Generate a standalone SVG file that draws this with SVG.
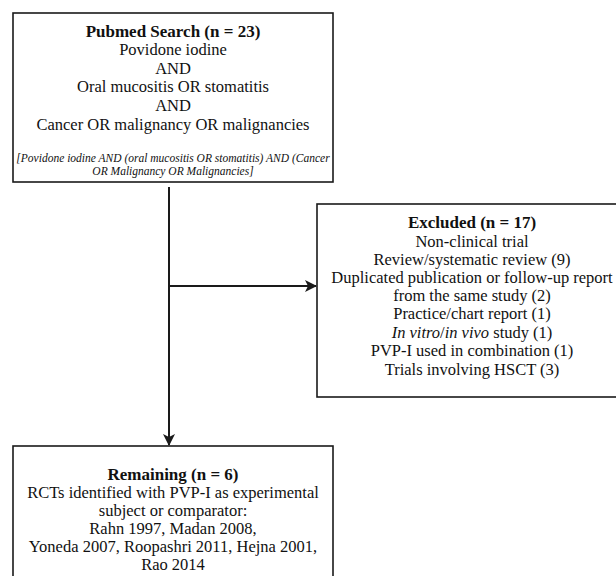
<svg xmlns="http://www.w3.org/2000/svg" width="616" height="576" viewBox="0 0 616 576">
<defs>
<style>
.box{fill:#fff;stroke:#1a1a1a;stroke-width:1.6}
.t{font-family:"Liberation Serif","Times New Roman",serif;font-size:16.5px;fill:#111;text-anchor:middle}
.b{font-weight:bold;font-size:17px}
.i{font-style:italic}
.s{font-size:11.5px}
.con{stroke:#1a1a1a;stroke-width:2;fill:none}
</style>
<marker id="arr" viewBox="0 0 12 12" refX="11" refY="6" markerWidth="12" markerHeight="12" markerUnits="userSpaceOnUse" orient="auto">
<path d="M0,0 L12,6 L0,12 L3,6 Z" fill="#1a1a1a"/>
</marker>
</defs>
<rect width="616" height="576" fill="#fff"/>
<g id="search">
<rect class="box" x="13" y="13" width="320" height="169"/>
<text class="t b" x="173" y="37">Pubmed Search (n = 23)</text>
<text class="t" x="173" y="55">Povidone iodine</text>
<text class="t" x="173" y="74">AND</text>
<text class="t" x="173" y="92">Oral mucositis OR stomatitis</text>
<text class="t" x="173" y="111">AND</text>
<text class="t" x="173" y="130">Cancer OR malignancy OR malignancies</text>
<text class="t i s" x="173" y="162">[Povidone iodine AND (oral mucositis OR stomatitis) AND (Cancer</text>
<text class="t i s" x="173" y="175">OR Malignancy OR Malignancies]</text>
</g>
<g id="excluded">
<rect class="box" x="317" y="204" width="312" height="193"/>
<text class="t b" x="472" y="228">Excluded (n = 17)</text>
<text class="t" x="472" y="247">Non-clinical trial</text>
<text class="t" x="472" y="265">Review/systematic review (9)</text>
<text class="t" x="472" y="283">Duplicated publication or follow-up report</text>
<text class="t" x="472" y="301">from the same study (2)</text>
<text class="t" x="472" y="319">Practice/chart report (1)</text>
<text class="t" x="472" y="338"><tspan class="i">In vitro</tspan>/<tspan class="i">in vivo</tspan> study (1)</text>
<text class="t" x="472" y="356">PVP-I used in combination (1)</text>
<text class="t" x="472" y="375">Trials involving HSCT (3)</text>
</g>
<g id="remaining">
<rect class="box" x="13" y="446" width="320" height="140"/>
<text class="t b" x="173" y="480">Remaining (n = 6)</text>
<text class="t" x="173" y="498">RCTs identified with PVP-I as experimental</text>
<text class="t" x="173" y="516">subject or comparator:</text>
<text class="t" x="173" y="534">Rahn 1997, Madan 2008,</text>
<text class="t" x="173" y="552">Yoneda 2007, Roopashri 2011, Hejna 2001,</text>
<text class="t" x="173" y="570">Rao 2014</text>
</g>
<g id="connectors">
<path class="con" d="M169,187 L169,445" marker-end="url(#arr)"/>
<path class="con" d="M169,286 L316,286" marker-end="url(#arr)"/>
</g>
</svg>
